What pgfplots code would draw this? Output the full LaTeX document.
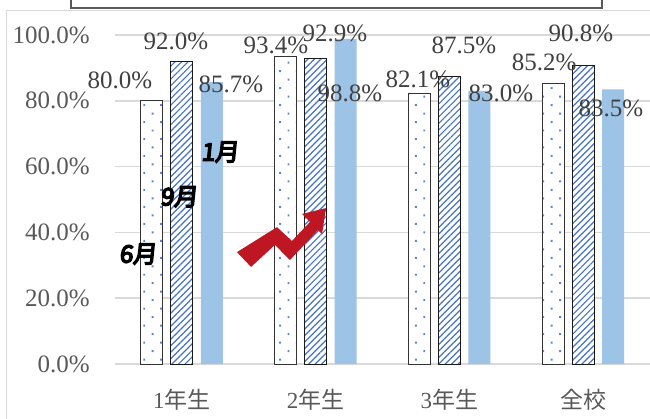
\documentclass[border=0pt]{standalone}
\usepackage{fontspec}
\setmainfont{Liberation Serif}
\newfontfamily\cjk{Noto Sans CJK JP}
\newfontfamily\cjkb{Noto Sans CJK JP}[FakeBold=6,FakeSlant=0.1]
\usepackage{pgfplots}
\usepackage{pgfplotstable}
\pgfplotsset{compat=1.18}
\usetikzlibrary{patterns.meta}
\definecolor{dotblue}{RGB}{68,114,196}
\definecolor{barblue}{RGB}{157,195,230}
\definecolor{lblgray}{RGB}{64,64,64}
\definecolor{tickgray}{RGB}{89,89,89}
\definecolor{gridgray}{RGB}{217,217,217}
\definecolor{arrowred}{RGB}{190,22,34}

\pgfplotstableread{
x m6 m9 m1
0 80.0 92.0 85.7
1 93.4 92.9 98.8
2 82.1 87.5 83.0
3 85.2 90.8 83.5
}\datatable

\begin{document}
\begin{tikzpicture}
\path[use as bounding box] (0,0) rectangle (325pt,209.5pt);
\draw[gridgray, line width=0.7pt] (3.25pt,-5pt) -- (3.25pt,204.25pt) -- (330pt,204.25pt);
\draw[black!65, line width=0.6pt] (35.5pt,215pt) rectangle (301pt,205.5pt);
\begin{axis}[
  at={(57.5pt,27.5pt)}, anchor=south west,
  scale only axis, width=267.5pt, height=164.5pt,
  xmin=-0.5, xmax=3.5, ymin=0, ymax=100,
  clip=false,
  axis line style={draw=none},
  major tick length=0pt,
  ymajorgrids, grid style={gridgray, line width=0.8pt},
  ytick={0,20,40,60,80,100},
  /pgf/number format/assume math mode=true,
  yticklabel={\pgfmathprintnumber[fixed,fixed zerofill,precision=1]{\tick}\%},
  xtick={0,1,2,3},
  xticklabels={1{\cjk 年生},2{\cjk 年生},3{\cjk 年生},{\cjk 全校}},
  tick label style={font=\fontsize{12.5}{15}\selectfont, text=tickgray},
  yticklabel style={anchor=east, inner sep=0pt, xshift=-12.5pt},
  xticklabel style={anchor=center, inner sep=0pt, yshift=-18pt, font=\fontsize{11.5}{13}\selectfont},
  ybar, bar width=11pt,
]
\addplot[bar shift=-15pt, fill=white, draw=black!80, line width=0.5pt,
  postaction={pattern={Dots[angle=45,distance=6pt,radius=0.7pt]}, pattern color=dotblue!85}]
  table[x=x,y=m6]{\datatable};
\addplot[bar shift=0pt, fill=white, draw=black!90, line width=0.5pt,
  postaction={pattern={Lines[angle=45,distance=2.3pt,line width=0.6pt]}, pattern color=dotblue}]
  table[x=x,y=m9]{\datatable};
\addplot[bar shift=15pt, fill=barblue, draw=none]
  table[x=x,y=m1]{\datatable};

\begin{scope}[every node/.style={font=\fontsize{12.5}{15}\selectfont, text=lblgray, inner sep=0pt}]
\node at (axis cs:-0.463,86.3) {80.0\%};
\node at (axis cs:-0.044,98.2) {92.0\%};
\node at (axis cs:0.367,85.1) {85.7\%};
\node at (axis cs:0.704,97.0) {93.4\%};
\node at (axis cs:1.145,100.6) {92.9\%};
\node at (axis cs:1.257,82.4) {98.8\%};
\node at (axis cs:1.765,86.6) {82.1\%};
\node at (axis cs:2.109,97.0) {87.5\%};
\node at (axis cs:2.386,82.4) {83.0\%};
\node at (axis cs:2.708,91.8) {85.2\%};
\node at (axis cs:2.984,100.6) {90.8\%};
\node at (axis cs:3.208,77.8) {83.5\%};
\end{scope}

\fill[arrowred] (axis cs:0.412,34.0) -- (axis cs:0.711,41.6) -- (axis cs:0.823,37.4)
  -- (axis cs:0.958,43.2) -- (axis cs:0.898,45.6) -- (axis cs:1.078,47.4)
  -- (axis cs:1.048,39.5) -- (axis cs:1.018,40.7) -- (axis cs:0.808,31.6)
  -- (axis cs:0.696,36.2) -- (axis cs:0.517,29.5) -- cycle;

\begin{scope}[every node/.style={font=\cjkb\fontsize{12}{13}\selectfont, text=black, inner sep=0pt}]
\node at (axis cs:-0.328,33.4) {6月};
\node at (axis cs:-0.021,50.8) {9月};
\node at (axis cs:0.285,64.4) {1月};
\end{scope}
\end{axis}
\end{tikzpicture}
\end{document}
